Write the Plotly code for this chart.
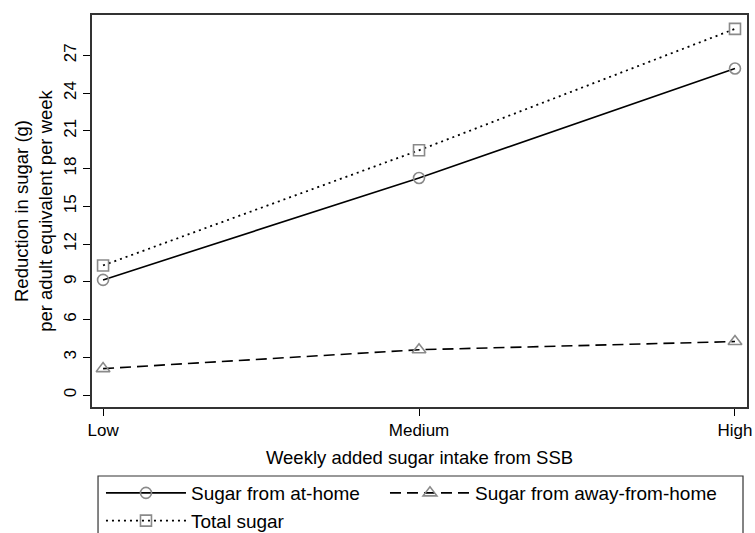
import plotly.graph_objects as go

# Intake groups and sugar reductions (g per adult equivalent per week)
categories = ["Low", "Medium", "High"]
at_home = [9.15, 17.25, 25.95]
away_from_home = [2.1, 3.6, 4.25]
total_sugar = [10.3, 19.45, 29.1]

y_ticks = [0, 3, 6, 9, 12, 15, 18, 21, 24, 27]

x_pos = list(range(len(categories)))
marker_gray = "#8a8a8a"
font_family = "Liberation Sans, Arial, Helvetica, sans-serif"

fig = go.Figure()

fig.add_trace(go.Scatter(
    x=x_pos, y=at_home, name="Sugar from at-home",
    mode="lines+markers", legend="legend",
    line=dict(color="black", width=1.6, dash="solid"),
    marker=dict(symbol="circle-open", size=11, color=marker_gray,
                line=dict(width=1.6, color=marker_gray)),
))
fig.add_trace(go.Scatter(
    x=x_pos, y=away_from_home, name="Sugar from away-from-home",
    mode="lines+markers", legend="legend2",
    line=dict(color="black", width=1.6, dash="11px,6px"),
    marker=dict(symbol="triangle-up-open", size=12, color=marker_gray,
                line=dict(width=1.6, color=marker_gray)),
))
fig.add_trace(go.Scatter(
    x=x_pos, y=total_sugar, name="Total sugar",
    mode="lines+markers", legend="legend",
    line=dict(color="black", width=1.8, dash="2px,4px"),
    marker=dict(symbol="square-open", size=11, color=marker_gray,
                line=dict(width=1.6, color=marker_gray)),
))

# Frame around the legend (runs off the bottom of the page)
fig.add_shape(type="rect", xref="paper", yref="paper",
              x0=0.0092, x1=0.9939, y0=-0.176, y1=-0.345,
              line=dict(color="#333333", width=1.2), fillcolor="rgba(0,0,0,0)")

legend_common = dict(
    y=-0.171, yanchor="top", xanchor="left",
    borderwidth=0, bgcolor="rgba(0,0,0,0)",
    font=dict(family=font_family, size=19, color="black"),
    traceorder="normal", itemwidth=80, tracegroupgap=0,
    orientation="v",
)

fig.update_layout(
    width=755, height=533,
    margin=dict(l=92, r=8, t=15, b=126, autoexpand=False),
    paper_bgcolor="white", plot_bgcolor="white",
    font=dict(family=font_family, size=17, color="black"),
    showlegend=True,
    legend=dict(x=0.0137, **legend_common),
    legend2=dict(x=0.4473, **legend_common),
    xaxis=dict(
        range=[-0.035, 2.038],
        tickmode="array", tickvals=x_pos, ticktext=categories,
        ticks="outside", ticklen=7, tickwidth=1.2, tickcolor="black",
        showgrid=False, zeroline=False,
        showline=True, linecolor="#333333", linewidth=1.5, mirror=True,
        title=dict(text="Weekly added sugar intake from SSB",
                   font=dict(size=18.5), standoff=12),
        tickfont=dict(size=17),
    ),
    yaxis=dict(
        range=[-0.95, 30.2],
        tickmode="array", tickvals=y_ticks,
        ticktext=[str(v) for v in y_ticks],
        tickangle=-90,
        ticks="outside", ticklen=7, tickwidth=1.2, tickcolor="black",
        showgrid=False, zeroline=False,
        showline=True, linecolor="#333333", linewidth=1.5, mirror=True,
        title=dict(text="Reduction in sugar (g)<br>per adult equivalent per week",
                   font=dict(size=18.5), standoff=4),
        tickfont=dict(size=17),
    ),
)

fig.write_html("out.html")
